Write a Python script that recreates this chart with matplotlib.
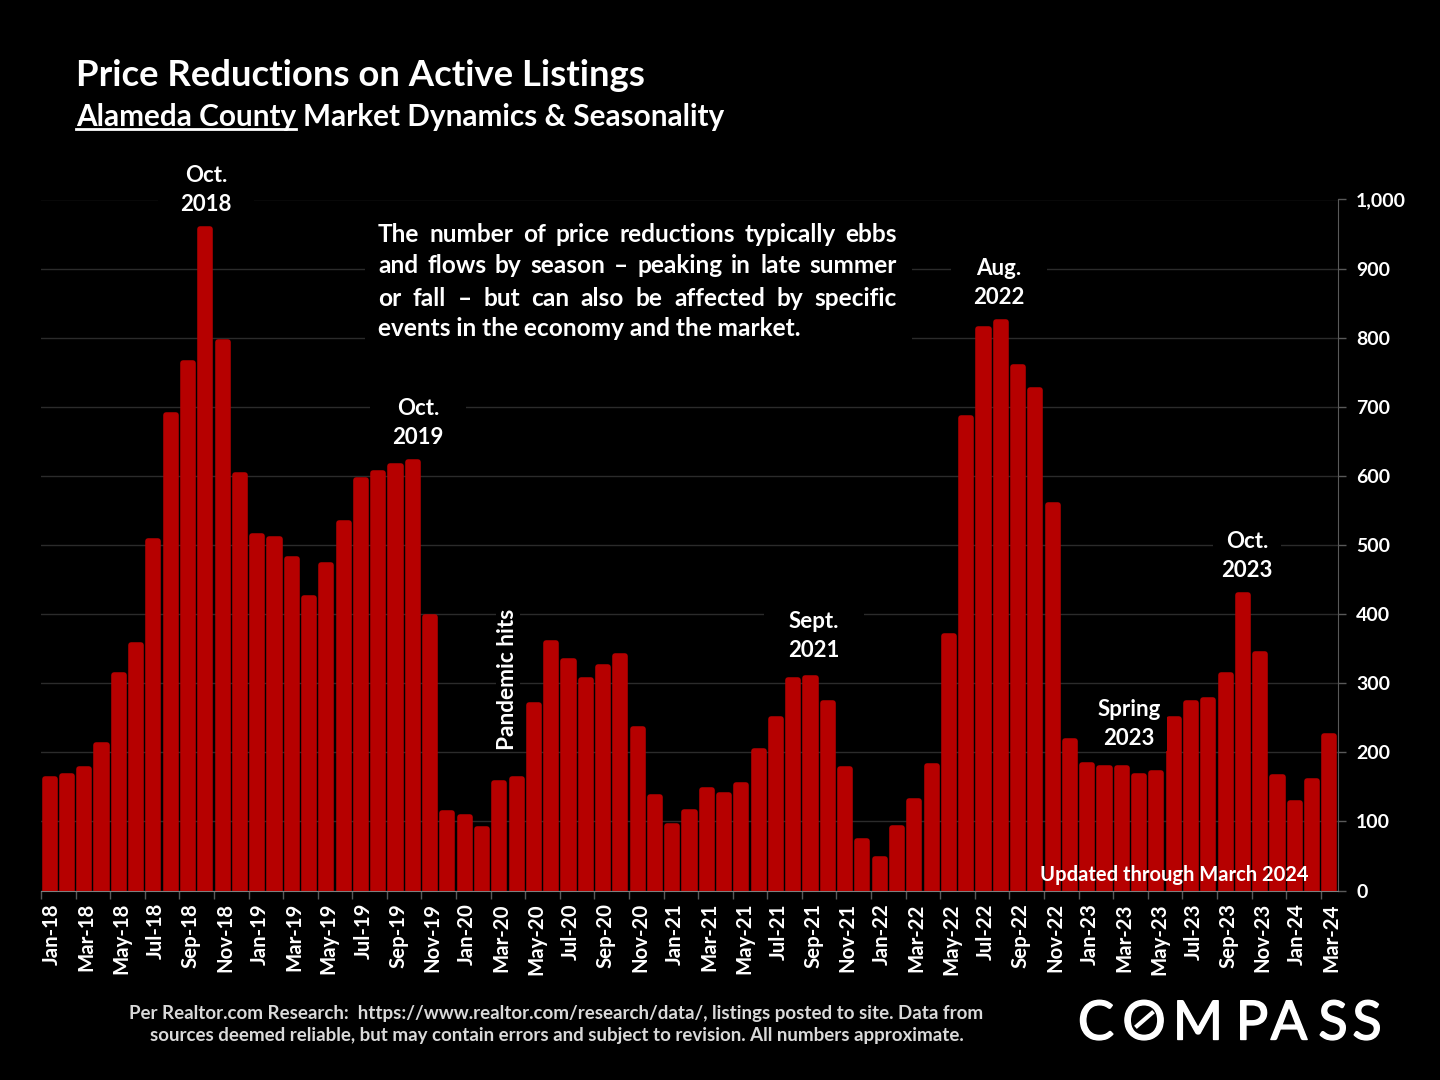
import numpy as np
import matplotlib.pyplot as plt
import matplotlib.patheffects as pe
from matplotlib.lines import Line2D
from matplotlib.ticker import FuncFormatter
from matplotlib.transforms import ScaledTranslation

plt.rcParams['font.family'] = ['Lato', 'DejaVu Sans']
plt.rcParams['font.weight'] = 'bold'

# months run Jan-18 .. Mar-24
years = ['18', '19', '20', '21', '22', '23', '24']
month_names = ['Jan', 'Feb', 'Mar', 'Apr', 'May', 'Jun', 'Jul', 'Aug', 'Sep', 'Oct', 'Nov', 'Dec']
months = [f'{m}-{y}' for y in years for m in month_names][:75]

reductions = [165, 170, 180, 215, 316, 360, 510, 692, 768, 962, 798, 605,
              517, 512, 484, 428, 475, 536, 598, 608, 618, 624, 400, 116,
              110, 93, 160, 165, 273, 362, 336, 308, 327, 344, 238, 140,
              97, 118, 150, 142, 156, 206, 252, 308, 312, 276, 180, 75,
              49, 95, 134, 184, 372, 688, 816, 826, 762, 728, 562, 220,
              186, 181, 181, 169, 174, 252, 276, 279, 316, 431, 346, 168,
              131, 162, 228]
y_ticks = [0, 100, 200, 300, 400, 500, 600, 700, 800, 900, 1000]

RED = '#b60000'
W, H = 1440, 1080

def fx(x):
    return x / W

def fy(y):
    return 1 - y / H

def box(cx, cy, half_w, half_h, z=2):
    # black box in pixel coords, hides the gridline behind text
    r = plt.Rectangle((fx(cx - half_w), fy(cy + half_h)), 2 * half_w / W, 2 * half_h / H,
                      transform=fig.transFigure, fc='black', ec='none', zorder=z)
    fig.add_artist(r)

fig = plt.figure(figsize=(14.4, 10.8), dpi=100, facecolor='black')
ax = fig.add_axes([fx(41), fy(890.5), (1338 - 41) / W, (890.5 - 199.5) / H], facecolor='black')

x = np.arange(len(months))
# thick round-joined edge gives the soft bar corners, it adds about 4 units on top
bars = ax.bar(x, np.array(reductions) - 4, width=0.585, color=RED, edgecolor=RED, linewidth=4, zorder=3)
for b in bars:
    b.set_joinstyle('round')

ax.set_xlim(-0.5, len(months) - 0.5)
ax.set_ylim(0, 1000)
ax.yaxis.tick_right()
ax.set_yticks(y_ticks)
ax.yaxis.set_major_formatter(FuncFormatter(lambda v, p: f'{int(v):,}'))
ax.tick_params(axis='y', colors='white', labelsize=14, length=6, width=1, color='#595959', pad=7)
ax.grid(axis='y', color='#2b2b2b', linewidth=1, zorder=0)
ax.set_axisbelow(True)

# tick marks sit on the bar edges, labels on the bar centres
ax.set_xticks(x[::2] - 0.5)
ax.set_xticklabels([])
ax.tick_params(axis='x', which='major', length=6, width=1, color='#595959')
ax.set_xticks(x[::2], minor=True)
ax.set_xticklabels(months[::2], minor=True, rotation=90, color='white', fontsize=14.7, va='top', ha='center')
ax.tick_params(axis='x', which='minor', length=0, pad=9)
shift = ScaledTranslation(2.5 / 100, 0, fig.dpi_scale_trans)
for lab in ax.get_xticklabels(minor=True):
    lab.set_transform(lab.get_transform() + shift)

for s in ['top', 'left']:
    ax.spines[s].set_visible(False)
ax.spines['bottom'].set_color('#7f7f7f')
ax.spines['right'].set_color('#595959')

# headings
fig.text(fx(76), fy(75), 'Price Reductions on Active Listings', color='white', fontsize=26.3, va='center')
fig.text(fx(76), fy(117), 'Alameda County', color='white', fontsize=21.4, va='center')
fig.text(fx(303), fy(117), 'Market Dynamics & Seasonality', color='white', fontsize=21.4, va='center')
fig.add_artist(Line2D([fx(76), fx(296)], [fy(129.5), fy(129.5)], color='white', lw=2))

# callouts
callouts = [('Oct.\n2018', 206, 190, 48), ('Oct.\n2019', 418, 423, 48), ('Aug.\n2022', 999, 283, 48),
            ('Sept.\n2021', 814, 636, 50), ('Spring\n2023', 1129, 724, 38), ('Oct.\n2023', 1247, 556, 34)]
for txt, cx, cy, half_w in callouts:
    box(cx, cy, half_w, 27)
    fig.text(fx(cx), fy(cy), txt, color='white', fontsize=16, ha='center', va='center',
             linespacing=1.45, zorder=3)
fig.text(fx(508), fy(679), 'Pandemic hits', color='white', fontsize=16.3, rotation=90, ha='center', va='center',
         bbox=dict(fc='black', ec='none', pad=1))
fig.text(fx(1174.5), fy(875), 'Updated through March 2024', color='white', fontsize=14.5, ha='center', va='center', zorder=5)

# justified note
note_lines = ['The number of price reductions typically ebbs',
              'and flows by season \u2013 peaking in late summer',
              'or fall \u2013 but can also be affected by specific']
note_last = 'events in the economy and the market.'
note_y = [235, 266, 298]
box(638.5, 280, 273.5, 65)
renderer = fig.canvas.get_renderer()
for line, yy in zip(note_lines, note_y):
    words = line.split(' ')
    parts = [fig.text(0, fy(yy), w, color='white', fontsize=17.6, va='center', zorder=3) for w in words]
    widths = [p.get_window_extent(renderer).width for p in parts]
    gap = (897 - 378 - sum(widths)) / (len(words) - 1)
    pos = 378
    for p, w in zip(parts, widths):
        p.set_x(fx(pos))
        pos += w + gap
fig.text(fx(378), fy(329), note_last, color='white', fontsize=17.6, va='center', zorder=3)

# footer
fig.text(fx(556.5), fy(1013), 'Per Realtor.com Research:  https://www.realtor.com/research/data/, listings posted to site. Data from',
         color='#d9d9d9', fontsize=13.5, ha='center', va='center')
fig.text(fx(556.5), fy(1036), 'sources deemed reliable, but may contain errors and subject to revision. All numbers approximate.',
         color='#d9d9d9', fontsize=13.5, ha='center', va='center')

# logo
logo_letters = ['C', 'O', 'M', 'P', 'A', 'S', 'S']
logo_x = [1096, 1144, 1198, 1252, 1289, 1333, 1367]
for ch, lx in zip(logo_letters, logo_x):
    fig.text(fx(lx), fy(1024), ch, color='white', fontsize=39, fontweight='normal', ha='center', va='center',
             path_effects=[pe.withStroke(linewidth=1, foreground='white')])
fig.add_artist(Line2D([fx(1137), fx(1152)], [fy(1026), fy(1013)], color='white', lw=3))

fig.savefig('out.png', dpi=100, facecolor='black')
